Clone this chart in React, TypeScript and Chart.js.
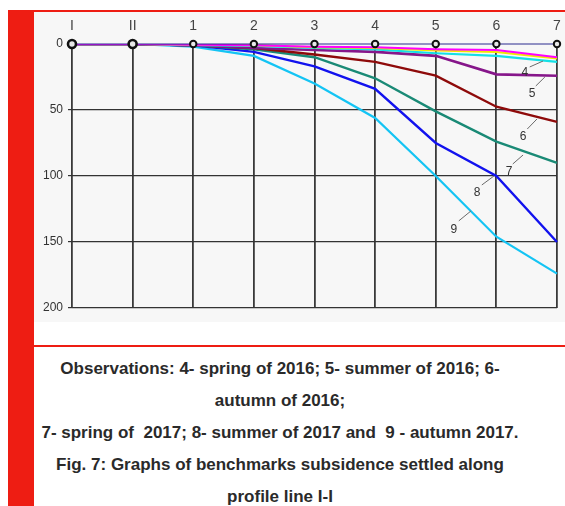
import React, { useEffect, useRef } from "react";
import { Chart, registerables } from "chart.js";

Chart.register(...registerables);

// ---- data ----
const categories = ["I", "II", "1", "2", "3", "4", "5", "6", "7"];
const baselineValues = [0, 0, 0, 0, 0, 0, 0, 0, 0];
const magentaValues = [0, 0, 0.5, 1, 2, 2.5, 4, 4.5, 10];
const yellowValues = [0, 0, 0.5, 1, 2.5, 3, 5, 6, 11];
const obs4Values = [0, 0, 0.8, 1.5, 3, 4, 7, 9, 13.5];
const obs5Values = [0, 0, 1, 3, 4.5, 6, 9, 23, 24];
const obs6Values = [0, 0, 1, 3, 8, 13.5, 24, 47.5, 59];
const obs7Values = [0, 0, 1, 4, 10, 26, 51, 74, 90];
const obs8Values = [0, 0, 1, 6, 17, 34, 75, 100, 150];
const obs9Values = [0, 0, 2, 9, 30, 56, 100, 146, 174];
const yTickValues = [0, 50, 100, 150, 200];

// curve labels (category index, value) and their leader lines
const curveLabels = ["4", "5", "6", "7", "8", "9"];
const labelIdx = [7.47, 7.59, 7.44, 7.21, 6.68, 6.3];
const labelVal = [21.5, 37.5, 70, 96.5, 113, 140.5];
const leaderFromIdx = [7.55, 7.65, 7.51, 7.27, 6.76, 6.38];
const leaderFromVal = [17.4, 31.8, 64.4, 90.9, 106.8, 134];
const leaderToIdx = [7.77, 7.8, 7.67, 7.44, 6.96, 6.58];
const leaderToVal = [12.9, 25, 56.8, 84.1, 100, 126.5];

const RED = "#ee1d13";
const FONT = "'Liberation Sans', Arial, sans-serif";

const curveLabelPlugin = {
  id: "curveLabels",
  afterDatasetsDraw(chart: any) {
    const { ctx } = chart;
    const xs = chart.scales.x;
    const ys = chart.scales.y;
    ctx.save();
    ctx.strokeStyle = "#6a6a6a";
    ctx.lineWidth = 1;
    ctx.fillStyle = "#333";
    ctx.font = `12px ${FONT}`;
    ctx.textAlign = "center";
    ctx.textBaseline = "middle";
    curveLabels.forEach((t, i) => {
      ctx.beginPath();
      ctx.moveTo(xs.getPixelForValue(leaderFromIdx[i]), ys.getPixelForValue(leaderFromVal[i]));
      ctx.lineTo(xs.getPixelForValue(leaderToIdx[i]), ys.getPixelForValue(leaderToVal[i]));
      ctx.stroke();
      ctx.fillText(t, xs.getPixelForValue(labelIdx[i]), ys.getPixelForValue(labelVal[i]));
    });
    ctx.restore();
  },
};

const line = (data: number[], color: string, width: number) => ({
  data,
  borderColor: color,
  borderWidth: width,
  pointRadius: 0,
  pointHoverRadius: 0,
  fill: false,
  tension: 0,
});

export default function App() {
  const ref = useRef<HTMLCanvasElement>(null);

  useEffect(() => {
    const chart = new Chart(ref.current!, {
      type: "line",
      data: {
        labels: categories,
        datasets: [
          {
            data: baselineValues,
            borderColor: "#2b2b8f",
            borderWidth: 1,
            pointRadius: [4, 4, 3.2, 3.2, 3.2, 3.2, 3.2, 3.2, 3.2],
            pointBorderWidth: [2.6, 2.6, 2, 2, 2, 2, 2, 2, 2],
            pointBorderColor: "#111",
            pointBackgroundColor: "#e8e8e8",
            fill: false,
            tension: 0,
            clip: false,
          },
          line(magentaValues, "#ff00ff", 2),
          line(yellowValues, "#f2e600", 2),
          line(obs4Values, "#14e0e6", 2.2),
          line(obs5Values, "#86168a", 2.6),
          line(obs6Values, "#8e0a0a", 2.4),
          line(obs7Values, "#1a8a76", 2.4),
          line(obs8Values, "#1212ee", 2.4),
          line(obs9Values, "#14c4f4", 2.2),
        ],
      },
      options: {
        responsive: false,
        animation: false,
        devicePixelRatio: 1,
        layout: { padding: { left: 0, right: 8, top: 0, bottom: 14 } },
        plugins: { legend: { display: false }, tooltip: { enabled: false } },
        scales: {
          x: {
            type: "category",
            position: "top",
            offset: false,
            border: { display: false },
            grid: {
              color: "#3a3a3a",
              lineWidth: 1.8,
              drawTicks: true,
              tickLength: 9,
              tickColor: "rgba(0,0,0,0)",
            },
            ticks: {
              padding: 0,
              color: "#444",
              font: { family: FONT, size: 14 },
              maxRotation: 0,
              autoSkip: false,
            },
            afterFit: (s: any) => {
              s.height = 32;
              s.paddingLeft = 0;
              s.paddingRight = 0;
            },
          },
          y: {
            type: "linear",
            reverse: true,
            min: 0,
            max: 200,
            border: { display: false },
            afterBuildTicks: (s: any) => {
              s.ticks = yTickValues.map((v) => ({ value: v }));
            },
            grid: {
              color: (c: any) => (c.tick && c.tick.value === 0 ? "rgba(0,0,0,0)" : "#333"),
              lineWidth: 1.2,
              tickLength: 4,
            },
            ticks: {
              padding: 5,
              color: "#333",
              font: { family: FONT, size: 12 },
            },
            afterFit: (s: any) => {
              s.width = 38;
            },
          },
        },
      },
      plugins: [curveLabelPlugin],
    });
    return () => chart.destroy();
  }, []);

  const caption =
    "Observations: 4- spring of 2016; 5- summer of 2016; 6-\n" +
    "autumn of 2016;\n" +
    "7- spring of  2017; 8- summer of 2017 and  9 - autumn 2017.\n" +
    "Fig. 7: Graphs of benchmarks subsidence settled along\n" +
    "profile line I-I";

  return (
    <div
      style={{
        position: "fixed",
        left: 0,
        top: 0,
        width: 565,
        height: 506,
        background: "#fff",
        overflow: "hidden",
      }}
    >
      <div style={{ position: "absolute", left: 8, top: 10, width: 557, height: 2, background: RED }} />
      <div style={{ position: "absolute", left: 8, top: 10, width: 26, height: 496, background: RED }} />
      <div
        style={{
          position: "absolute",
          left: 34,
          top: 12,
          width: 531,
          height: 310,
          background: "#f7f7f7",
        }}
      >
        <canvas ref={ref} width={531} height={310} style={{ display: "block", width: 531, height: 310 }} />
      </div>
      <div style={{ position: "absolute", left: 33, top: 345, width: 532, height: 2, background: RED }} />
      <div
        style={{
          position: "absolute",
          left: 0,
          top: 353,
          width: 560,
          textAlign: "center",
          whiteSpace: "pre",
          fontFamily: FONT,
          fontWeight: "bold",
          fontSize: 17,
          lineHeight: "32px",
          color: "#2a2a2a",
        }}
      >
        {caption}
      </div>
    </div>
  );
}
